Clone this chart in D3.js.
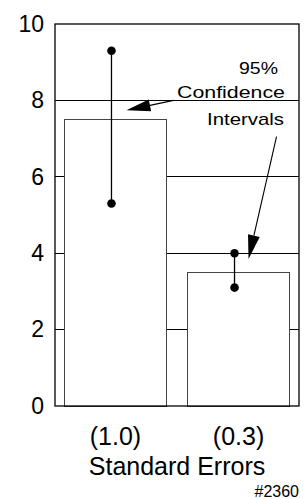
<!DOCTYPE html>
<html>
<head>
<meta charset="utf-8">
<script src="https://cdn.jsdelivr.net/npm/d3@7"></script>
<style>
  html, body { margin: 0; padding: 0; background: #fff; }
  svg { display: block; font-family: "Liberation Sans", Arial, sans-serif; }
</style>
</head>
<body>
<div id="chart"></div>
<script>
// Chart data
var categories = ['(1.0)', '(0.3)'];
var means = [7.5, 3.5];
var ciLow = [5.3, 3.1];
var ciHigh = [9.3, 4.0];
var yTicks = [0, 2, 4, 6, 8, 10];
var gridValues = [2, 4, 6, 8];
var xTitle = 'Standard Errors';
var noteLines = ['95%', 'Confidence', 'Intervals'];
var figId = '#2360';

var width = 305, height = 499;
var margin = { top: 24, right: 6, bottom: 93, left: 55 };
var iw = width - margin.left - margin.right;
var ih = height - margin.top - margin.bottom;

var svg = d3.select('#chart').append('svg')
  .attr('width', width).attr('height', height);
var g = svg.append('g')
  .attr('transform', 'translate(' + margin.left + ',' + margin.top + ')');

var x = d3.scaleBand().domain(categories).range([0, iw])
  .paddingInner(0.171).paddingOuter(0.077);
var y = d3.scaleLinear().domain([0, 10]).range([ih, 0]);

// gridlines sit under the white bars
g.append('g').selectAll('line').data(gridValues).enter().append('line')
  .attr('x1', 0).attr('x2', iw)
  .attr('y1', function (d) { return y(d); }).attr('y2', function (d) { return y(d); })
  .attr('stroke', '#000').attr('stroke-width', 1)
  .attr('shape-rendering', 'crispEdges');

// bars
g.append('g').selectAll('rect').data(categories).enter().append('rect')
  .attr('x', function (c) { return x(c); })
  .attr('y', function (c, i) { return y(means[i]); })
  .attr('width', x.bandwidth())
  .attr('height', function (c, i) { return ih - y(means[i]); })
  .attr('fill', '#fff').attr('stroke', '#444').attr('stroke-width', 1)
  .attr('shape-rendering', 'crispEdges');

// error bars (drawn slightly left of bar centre, as in the original)
var errOff = -4;
function ex(c) { return x(c) + x.bandwidth() / 2 + errOff; }
var err = g.append('g').selectAll('g').data(categories).enter().append('g');
err.append('line')
  .attr('x1', ex).attr('x2', ex)
  .attr('y1', function (c, i) { return y(ciHigh[i]); })
  .attr('y2', function (c, i) { return y(ciLow[i]); })
  .attr('stroke', '#000').attr('stroke-width', 1.3);
err.append('circle').attr('cx', ex)
  .attr('cy', function (c, i) { return y(ciHigh[i]); }).attr('r', 4.3).attr('fill', '#000');
err.append('circle').attr('cx', ex)
  .attr('cy', function (c, i) { return y(ciLow[i]); }).attr('r', 4.3).attr('fill', '#000');

// frame
g.append('rect').attr('x', 0).attr('y', 0).attr('width', iw).attr('height', ih)
  .attr('fill', 'none').attr('stroke', '#000').attr('stroke-width', 1.3);

// y axis labels
var yAxis = g.append('g').call(d3.axisLeft(y).tickValues(yTicks).tickSize(0).tickPadding(11));
yAxis.select('.domain').remove();
yAxis.selectAll('text').attr('font-size', 23).attr('fill', '#000')
  .attr('font-family', '"Liberation Sans", Arial, sans-serif');

// x category labels
g.append('g').selectAll('text').data(categories).enter().append('text')
  .attr('x', function (c) { return x(c) + x.bandwidth() / 2; })
  .attr('y', ih + 39)
  .attr('text-anchor', 'middle').attr('font-size', 25)
  .text(function (c) { return c; });

g.append('text').attr('x', iw / 2).attr('y', ih + 69)
  .attr('text-anchor', 'middle').attr('font-size', 25).text(xTitle);

svg.append('text').attr('x', 299).attr('y', 497)
  .attr('text-anchor', 'end').attr('font-size', 16).text(figId);

// annotation text: the original uses a horizontally widened face,
// so each line is scaled in x to its measured width
var notes = [
  { t: noteLines[0], x: 239, y: 74, w: 39 },
  { t: noteLines[1], x: 177, y: 98, w: 108 },
  { t: noteLines[2], x: 207, y: 125, w: 77 }
];
var noteG = svg.append('g').selectAll('g').data(notes).enter().append('g');
noteG.append('text').attr('font-size', 17).text(function (d) { return d.t; });
noteG.attr('transform', function (d) {
  var nat = this.firstChild.getComputedTextLength() || d.w;
  return 'translate(' + d.x + ',' + d.y + ') scale(' + (d.w / nat) + ',1)';
});

// arrows, tips anchored to the bars through the scales
function arrow(x1, y1, x2, y2) {
  var a = Math.atan2(y2 - y1, x2 - x1), L = 24, W = 6;
  var bx = x2 - L * Math.cos(a), by = y2 - L * Math.sin(a);
  var px = -Math.sin(a) * W, py = Math.cos(a) * W;
  g.append('line').attr('x1', x1).attr('y1', y1).attr('x2', bx).attr('y2', by)
    .attr('stroke', '#000').attr('stroke-width', 1.1);
  g.append('path')
    .attr('d', 'M' + x2 + ',' + y2 + 'L' + (bx + px) + ',' + (by + py) + 'L' + (bx - px) + ',' + (by - py) + 'Z')
    .attr('fill', '#000');
}
var b0 = categories[0], b1 = categories[1];
arrow(x(b0) + x.bandwidth() + 7, y(8.0), x(b0) + x.bandwidth() / 2 + 11, y(7.74));
arrow(x(b1) + x.bandwidth() - 13, y(7.05), x(b1) + x.bandwidth() / 2 + 10, y(3.85));
</script>
</body>
</html>
